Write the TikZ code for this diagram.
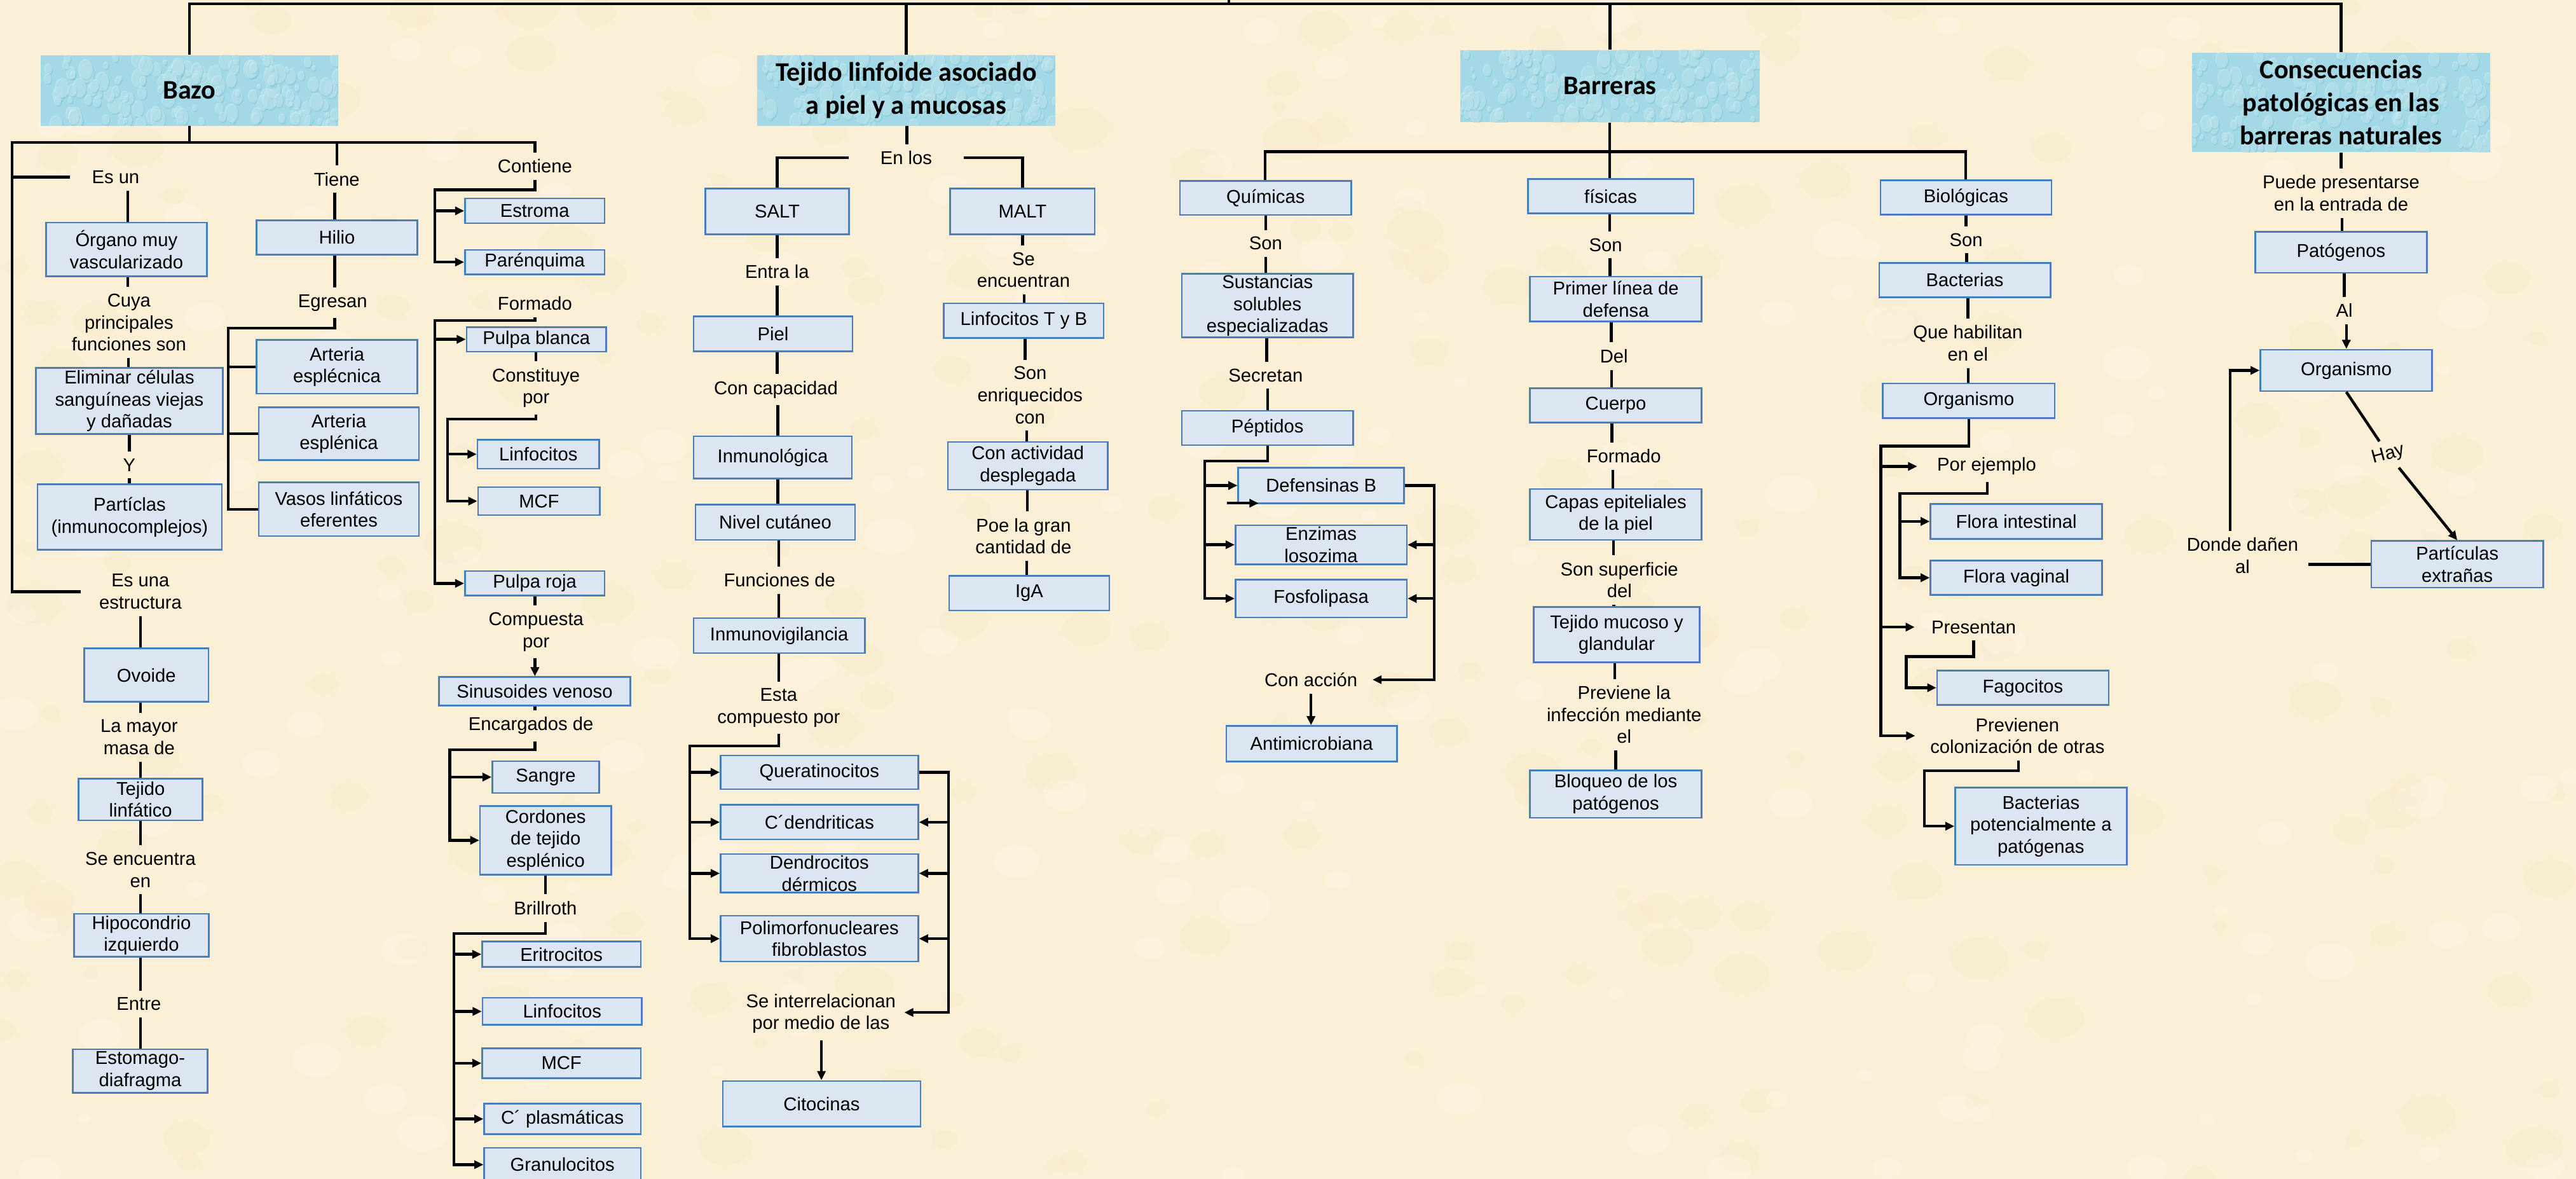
\documentclass[tikz,border=0pt]{standalone}
\usepackage{fontspec}
\setmainfont{Liberation Sans}
\newfontfamily\hdrfont{Carlito}
\usetikzlibrary{arrows.meta}
\definecolor{bgcol}{HTML}{FBEFD5}
\definecolor{bgdark}{HTML}{F2E0BA}
\definecolor{bglight}{HTML}{FFF8EA}
\definecolor{boxfill}{HTML}{DCE6F2}
\definecolor{boxline}{HTML}{4A7EBB}
\definecolor{hdrbase}{HTML}{A3D9E6}
\definecolor{hdrlight}{HTML}{D2F0F6}
\definecolor{hdrdark}{HTML}{6CB6CA}
\tikzset{
 box/.style={draw=boxline, fill=boxfill, line width=1pt, inner sep=0.5pt, align=center, font=\fontsize{11.3}{13.4}\selectfont},
 lbl/.style={inner xsep=2.5pt, inner ysep=4pt, align=center, font=\fontsize{11.3}{13.4}\selectfont},
 hdrnode/.style={inner sep=0pt, align=center, font=\hdrfont\bfseries\fontsize{16.3}{20}\selectfont},
 line/.style={line width=1.7pt, draw=black},
 arr/.style={line, -{Triangle[length=5.5pt,width=5pt]}},
}
\newcommand\bx[6]{\node[box,minimum width={(#4)-(#2)},minimum height={(#5)-(#3)}] (#1) at ({((#2)+(#4))/2},{((#3)+(#5))/2}) {#6};}
\newcommand\lb[4][]{\node[lbl,#1] (#2) at (#3) {#4};}
\newcommand\vl[3]{\draw[line] (#1.south -| #3,0) -- (#2.north -| #3,0);}
\newcommand\va[3]{\draw[arr] (#1.south -| #3,0) -- (#2.north -| #3,0);}
\newcommand\waterfill[4]{%
 \fill[hdrbase] (#1,#2) rectangle (#3,#4);
 \begin{scope}
 \clip (#1,#2) rectangle (#3,#4);
 \foreach \k in {1,...,150}{%
  \pgfmathsetmacro\cx{#1+rnd*(#3-#1)}%
  \pgfmathsetmacro\cy{#2+rnd*(#4-#2)}%
  \pgfmathsetmacro\rr{1+rnd*3.5}%
  \fill[hdrdark,opacity=0.3] (\cx+0.6,\cy+0.8) ellipse ({\rr} and {1.4*\rr});
  \fill[hdrlight,opacity=0.45] (\cx,\cy) ellipse ({\rr} and {1.4*\rr});
 }
 \end{scope}}
\newcommand\hdr[6]{%
 \waterfill{#2}{#3}{#4}{#5}
 \node[hdrnode,minimum width={(#4)-(#2)},minimum height={(#5)-(#3)}] (#1) at ({((#2)+(#4))/2},{((#3)+(#5))/2}) {#6};}

\begin{document}
\begin{tikzpicture}[x=1pt,y=-1pt]
\useasboundingbox (0,0) rectangle (1568,717.4);
\fill[bgcol] (0,0) rectangle (1568,717.4);
\pgfmathsetseed{11}
\begin{scope}
\clip (0,0) rectangle (1568,717.4);
\foreach \k in {1,...,260}{%
 \pgfmathsetmacro\cx{rnd*1568}\pgfmathsetmacro\cy{rnd*717}\pgfmathsetmacro\rr{4+rnd*14}%
 \fill[bgdark,opacity=0.12] (\cx,\cy) ellipse ({\rr} and {0.7*\rr});}
\foreach \k in {1,...,200}{%
 \pgfmathsetmacro\cx{rnd*1568}\pgfmathsetmacro\cy{rnd*717}\pgfmathsetmacro\rr{4+rnd*12}%
 \fill[bglight,opacity=0.25] (\cx,\cy) ellipse ({\rr} and {0.7*\rr});}
\end{scope}

% ---------------- headers
\hdr{bazo}{24.6}{33.5}{206}{76.6}{Bazo}
\hdr{tej}{460.8}{33.5}{642.4}{76.6}{Tejido linfoide asociado\\a piel y a mucosas}
\hdr{barr}{888.7}{30.5}{1071.2}{74.3}{Barreras}
\hdr{cons}{1334.1}{32}{1515.8}{92.5}{Consecuencias\\patológicas en las\\barreras naturales}

\coordinate (rootj) at (748,2.3);
\coordinate (rootp) at (748,-3);
\draw[line] (bazo.north) |- (rootj) -| (cons.north);
\draw[line] (tej.north) -- (tej.north |- rootj);
\draw[line] (barr.north) -- (barr.north |- rootj);
\draw[line] (rootj) -- (rootp);

% ---------------- Bazo
\lb[inner xsep=13pt]{esun}{70.4,107.8}{Es un}
\bx{organo}{28}{135.4}{125.9}{168.2}{Órgano muy\\vascularizado}
\lb{cuya}{78.5,196.3}{Cuya\\principales\\funciones son}
\bx{elim}{21.8}{223.8}{135.7}{264}{Eliminar células\\sanguíneas viejas\\y dañadas}
\lb{ylbl}{78.7,283}{Y}
\bx{particlas}{22.8}{294.7}{135}{334.6}{Partíclas\\(inmunocomplejos)}
\lb[inner xsep=11pt]{esuna}{85.5,360}{Es una\\estructura}
\bx{ovoide}{51.3}{394.6}{126.9}{427}{Ovoide}
\lb{lamayor}{84.7,448.6}{La mayor\\masa de}
\bx{tejlinf}{47.9}{473.8}{123.3}{499.2}{Tejido\\linfático}
\lb{seenc}{85.5,529.3}{Se encuentra\\en}
\bx{hipo}{45}{556}{127.2}{582.3}{Hipocondrio\\izquierdo}
\lb{entre}{84.5,611}{Entre}
\bx{esto}{44.3}{638.5}{126.4}{665}{Estomago-\\diafragma}

\lb{tiene}{205,109}{Tiene}
\bx{hilio}{156.2}{134}{254}{155}{Hilio}
\lb{egresan}{202.5,184.2}{Egresan}
\bx{arteria1}{156.2}{206.9}{254}{239.5}{Arteria\\esplécnica}
\bx{arteria2}{157.5}{247.9}{255}{280}{Arteria\\esplénica}
\bx{vasos}{157.5}{293.6}{255}{326.2}{Vasos linfáticos\\eferentes}

\lb{contiene}{325.6,101.2}{Contiene}
\bx{estroma}{283}{120.7}{368}{135.9}{Estroma}
\bx{parenq}{283}{152}{368}{167}{Parénquima}
\lb{formado}{325.6,184.6}{Formado}
\bx{pblanca}{284}{199}{369}{214}{Pulpa blanca}
\lb{constit}{326.3,236.1}{Constituye\\por}
\bx{linf1}{290.6}{267.6}{364.7}{285.2}{Linfocitos}
\bx{mcf1}{291}{296.4}{365.2}{313.5}{MCF}
\bx{proja}{283}{347.5}{368}{362.5}{Pulpa roja}
\lb{compuesta}{326.3,384.5}{Compuesta\\por}
\bx{sinus}{267.3}{412}{383.6}{429.4}{Sinusoides venoso}
\lb{encarg}{323.2,441.6}{Encargados de}
\bx{sangre}{299.7}{463.2}{364.7}{482.5}{Sangre}
\bx{cordones}{292.2}{490.5}{372}{532.2}{Cordones\\de tejido\\esplénico}
\lb{brill}{332,552.6}{Brillroth}
\bx{eritro}{293.5}{573}{390}{588.4}{Eritrocitos}
\bx{linf2}{293.7}{607.2}{390.6}{623.7}{Linfocitos}
\bx{mcf2}{293.5}{637.8}{390}{656.1}{MCF}
\bx{cplas}{294.7}{671.6}{390}{690.2}{C´ plasmáticas}
\bx{granulo}{294.7}{698.4}{390}{719}{Granulocitos}

\coordinate (bzL) at (7.3,86.7);
\coordinate (bzR) at (325.6,86.7);
\draw[line] (bazo.south) -- (bazo.south |- bzL);
\draw[line] (esuna.west) -| (bzL) -- (bzR) -- (contiene.north);
\draw[line] (bzL |- esun.west) -- (esun.west);
\draw[line] (tiene.north |- bzL) -- (tiene.north);
\vl{esun}{organo}{77.7}
\vl{organo}{cuya}{77.7}
\vl{cuya}{elim}{78.2}
\vl{elim}{ylbl}{78.7}
\vl{ylbl}{particlas}{78.7}
\vl{esuna}{ovoide}{85.5}
\vl{ovoide}{lamayor}{85.5}
\vl{lamayor}{tejlinf}{85.5}
\vl{tejlinf}{seenc}{85.5}
\vl{seenc}{hipo}{85.5}
\vl{hipo}{entre}{85.5}
\vl{entre}{esto}{85.5}
\vl{tiene}{hilio}{203.8}
\vl{hilio}{egresan}{203.8}
\coordinate (eg1) at (139,199.6);
\draw[line] (egresan.south -| 203.8,0) |- (eg1) |- (vasos.west);
\draw[line] (eg1 |- arteria1.west) -- (arteria1.west);
\draw[line] (eg1 |- arteria2.west) -- (arteria2.west);
\coordinate (c1) at (264.7,115.5);
\draw[arr] (contiene.south) |- (c1) |- (parenq.west);
\draw[arr] (c1 |- estroma.west) -- (estroma.west);
\coordinate (f1) at (264.7,195);
\draw[arr] (formado.south) |- (f1) |- (proja.west);
\draw[arr] (f1 |- pblanca.west) -- (pblanca.west);
\vl{pblanca}{constit}{326.3}
\coordinate (k1) at (272.5,255);
\draw[arr] (constit.south) |- (k1) |- (mcf1.west);
\draw[arr] (k1 |- linf1.west) -- (linf1.west);
\vl{proja}{compuesta}{325.6}
\va{compuesta}{sinus}{325.6}
\vl{sinus}{encarg}{325.6}
\coordinate (e1) at (273.8,456.2);
\draw[arr] (encarg.south -| 325.6,0) |- (e1) |- (cordones.west);
\draw[arr] (e1 |- sangre.west) -- (sangre.west);
\vl{cordones}{brill}{332}
\coordinate (b1) at (276.4,568);
\draw[arr] (brill.south) |- (b1) |- (granulo.west);
\draw[arr] (b1 |- eritro.west) -- (eritro.west);
\draw[arr] (b1 |- linf2.west) -- (linf2.west);
\draw[arr] (b1 |- mcf2.west) -- (mcf2.west);
\draw[arr] (b1 |- cplas.west) -- (cplas.west);

% ---------------- Tejido linfoide
\lb[inner xsep=19pt]{enlos}{551.6,96}{En los}
\bx{salt}{429.3}{114.8}{516.9}{142.5}{SALT}
\bx{malt}{578.4}{114.8}{666.4}{142.5}{MALT}
\lb{entrala}{473,165.4}{Entra la}
\bx{piel}{422.2}{192.6}{518.9}{213.9}{Piel}
\lb{concap}{472.3,237.1}{Con capacidad}
\bx{inmunol}{422.2}{265.5}{518.5}{291.2}{Inmunológica}
\bx{nivel}{423.4}{307}{520.4}{328.5}{Nivel cutáneo}
\lb{funciones}{474.5,353}{Funciones de}
\bx{inmunov}{422.2}{376.2}{526.4}{397.4}{Inmunovigilancia}
\lb{esta}{474,430.7}{Esta\\compuesto por}
\bx{querat}{438.6}{459.7}{558.9}{480.2}{Queratinocitos}
\bx{cdend}{438.6}{489.8}{558.9}{510.8}{C´dendriticas}
\bx{dendro}{438.6}{519.7}{558.9}{543.2}{Dendrocitos\\dérmicos}
\bx{polimorf}{438.6}{557.3}{558.9}{585.1}{Polimorfonucleares\\fibroblastos}
\lb[inner xsep=5pt]{seinter}{499.7,616.8}{Se interrelacionan\\por medio de las}
\bx{citocinas}{440}{657.8}{560.3}{685.5}{Citocinas}
\lb{seenc2}{623,164.2}{Se\\encuentran}
\bx{linfTB}{574.5}{184.6}{671.8}{205.7}{Linfocitos T y B}
\lb{sonenr}{627,240.5}{Son\\enriquecidos\\con}
\bx{conact}{577}{269}{674.3}{298}{Con actividad\\desplegada}
\lb{poe}{623,326.3}{Poe la gran\\cantidad de}
\bx{iga}{577.7}{350.5}{675.3}{371.5}{IgA}

\vl{tej}{enlos}{552}
\draw[line] (enlos.west) -| (salt.north);
\draw[line] (enlos.east) -| (malt.north);
\vl{salt}{entrala}{473}
\vl{entrala}{piel}{473}
\vl{piel}{concap}{473}
\vl{concap}{inmunol}{473.5}
\vl{inmunol}{nivel}{473.5}
\vl{nivel}{funciones}{474}
\vl{funciones}{inmunov}{474}
\vl{inmunov}{esta}{474}
\coordinate (t1) at (419.8,453.8);
\draw[arr] (esta.south) |- (t1) |- (polimorf.west);
\draw[arr] (t1 |- querat.west) -- (querat.west);
\draw[arr] (t1 |- cdend.west) -- (cdend.west);
\draw[arr] (t1 |- dendro.west) -- (dendro.west);
\coordinate (t2) at (577.3,616.1);
\draw[arr] (querat.east) -| (t2) -- (seinter.east |- t2);
\draw[arr] (t2 |- cdend.east) -- (cdend.east);
\draw[arr] (t2 |- dendro.east) -- (dendro.east);
\draw[arr] (t2 |- polimorf.east) -- (polimorf.east);
\va{seinter}{citocinas}{500}
\vl{malt}{seenc2}{622.4}
\vl{seenc2}{linfTB}{623.3}
\vl{linfTB}{sonenr}{624}
\vl{sonenr}{conact}{625}
\vl{conact}{poe}{625.4}
\vl{poe}{iga}{625}

% ---------------- Barreras
\bx{quim}{718.2}{110}{822.5}{130.8}{Químicas}
\lb{son1}{770.4,148.1}{Son}
\bx{sust}{719.3}{166.7}{823.7}{205.2}{Sustancias\\solubles\\especializadas}
\lb{secretan}{770.4,228.3}{Secretan}
\bx{peptidos}{719.3}{250}{823.7}{270.9}{Péptidos}
\bx{defens}{753.7}{284.7}{854.7}{306.2}{Defensinas B}
\bx{enzimas}{752}{319.6}{856.3}{343.4}{Enzimas\\losozima}
\bx{fosfo}{752}{352.7}{856.3}{375.7}{Fosfolipasa}
\lb[inner xsep=9pt]{conaccion}{798,413.6}{Con acción}
\bx{antimic}{746.4}{441.8}{850.3}{463.3}{Antimicrobiana}

\bx{fisicas}{930}{109}{1030.8}{129.8}{físicas}
\lb{son2}{977.3,149}{Son}
\bx{primer}{931.3}{168.3}{1035.7}{195.6}{Primer línea de\\defensa}
\lb{del}{982.4,216.7}{Del}
\bx{cuerpo}{931.3}{236.3}{1035.7}{257.1}{Cuerpo}
\lb{formado2}{988.4,277.6}{Formado}
\bx{capas}{931.3}{297.5}{1035.7}{328.6}{Capas epiteliales\\de la piel}
\lb{sonsup}{985.7,353}{Son superficie\\del}
\bx{tejmuc}{933.5}{369.3}{1034.6}{403}{Tejido mucoso y\\glandular}
\lb{previene}{988.6,434.9}{Previene la\\infección mediante\\el}
\bx{bloqueo}{931.3}{468.7}{1035.7}{497.6}{Bloqueo de los\\patógenos}

\bx{biol}{1144.6}{109.8}{1248.7}{130.5}{Biológicas}
\lb{son3}{1196.7,146}{Son}
\bx{bact}{1143.8}{159.9}{1248.1}{181}{Bacterias}
\lb{quehab}{1197.8,208.9}{Que habilitan\\en el}
\bx{organ1}{1146.1}{233.4}{1250.7}{254.5}{Organismo}
\lb[inner xsep=12pt]{porej}{1209.3,283.8}{Por ejemplo}
\bx{fint}{1175.1}{306.6}{1279.5}{328}{Flora intestinal}
\bx{fvag}{1175.1}{341.2}{1279.5}{361.9}{Flora vaginal}
\lb[inner xsep=10pt]{presentan}{1201.4,381.6}{Presentan}
\bx{fago}{1179.1}{408.1}{1283.5}{428.9}{Fagocitos}
\lb[inner xsep=9pt]{previenen}{1228,447.7}{Previenen\\colonización de otras}
\bx{bpot}{1190.1}{479.3}{1294.5}{526.2}{Bacterias\\potencialmente a\\patógenas}

\coordinate (bh) at (979.7,92.3);
\draw[line] (barr.south -| 979.7,0) -- (fisicas.north -| 979.7,0);
\draw[line] (quim.north -| 770,0) |- (bh) -| (biol.north -| 1196.5,0);
\vl{quim}{son1}{770.4}
\vl{son1}{sust}{770.4}
\vl{sust}{secretan}{771}
\vl{secretan}{peptidos}{771.5}
\coordinate (p1) at (733.3,280.5);
\draw[arr] (peptidos.south -| 771.5,0) |- (p1) |- (fosfo.west);
\draw[arr] (p1 |- defens.west) -- (defens.west);
\draw[arr] (p1 |- enzimas.west) -- (enzimas.west);
\coordinate (sa1) at (747,306.2);
\coordinate (sa2) at (766,306.2);
\draw[arr] (sa1) -- (sa2);
\coordinate (d2) at (873,413.6);
\draw[arr] (defens.east) -| (d2) -- (conaccion.east |- d2);
\draw[arr] (d2 |- enzimas.east) -- (enzimas.east);
\draw[arr] (d2 |- fosfo.east) -- (fosfo.east);
\va{conaccion}{antimic}{798}

\vl{fisicas}{son2}{979.7}
\vl{son2}{primer}{980}
\vl{primer}{del}{980.8}
\vl{del}{cuerpo}{981}
\vl{cuerpo}{formado2}{981.2}
\vl{formado2}{capas}{981.7}
\vl{capas}{sonsup}{982}
\vl{sonsup}{tejmuc}{982.3}
\vl{tejmuc}{previene}{982.8}
\vl{previene}{bloqueo}{983.5}

\vl{biol}{son3}{1196.7}
\vl{son3}{bact}{1197}
\vl{bact}{quehab}{1197.8}
\vl{quehab}{organ1}{1198}
\coordinate (o1) at (1144.8,271.4);
\draw[arr] (organ1.south -| 1198.4,0) |- (o1) |- (previenen.west);
\draw[arr] (o1 |- porej.west) -- (porej.west);
\draw[arr] (o1 |- presentan.west) -- (presentan.west);
\coordinate (q1) at (1156.4,300.4);
\draw[arr] (porej.south -| 1209.7,0) |- (q1) |- (fvag.west);
\draw[arr] (q1 |- fint.west) -- (fint.west);
\coordinate (s1) at (1160.3,399.5);
\draw[arr] (presentan.south) |- (s1) |- (fago.west);
\coordinate (v1) at (1171.4,469);
\draw[arr] (previenen.south -| 1228.6,0) |- (v1) |- (bpot.west);

% ---------------- Consecuencias
\lb{puede}{1425,117.5}{Puede presentarse\\en la entrada de}
\bx{patog}{1372.7}{141}{1477.2}{166}{Patógenos}
\lb{al}{1427,189}{Al}
\bx{organ2}{1375.9}{212.8}{1480.4}{238}{Organismo}
\lb[rotate=15]{hay}{1453.8,276.7}{Hay}
\bx{partic}{1443.4}{329.2}{1548}{357.6}{Partículas\\extrañas}
\lb[inner xsep=6pt]{donde}{1365,338}{Donde dañen\\al}

\vl{cons}{puede}{1425}
\vl{puede}{patog}{1425.5}
\vl{patog}{al}{1426.9}
\va{al}{organ2}{1428.2}
\draw[line] (organ2.south) -- (hay);
\draw[arr] (hay) -- (partic.north);
\draw[line] (partic.west) -- (donde.east |- partic.west);
\draw[arr] (donde.north -| 1357.4,0) |- (organ2.west);
\end{tikzpicture}
\end{document}
